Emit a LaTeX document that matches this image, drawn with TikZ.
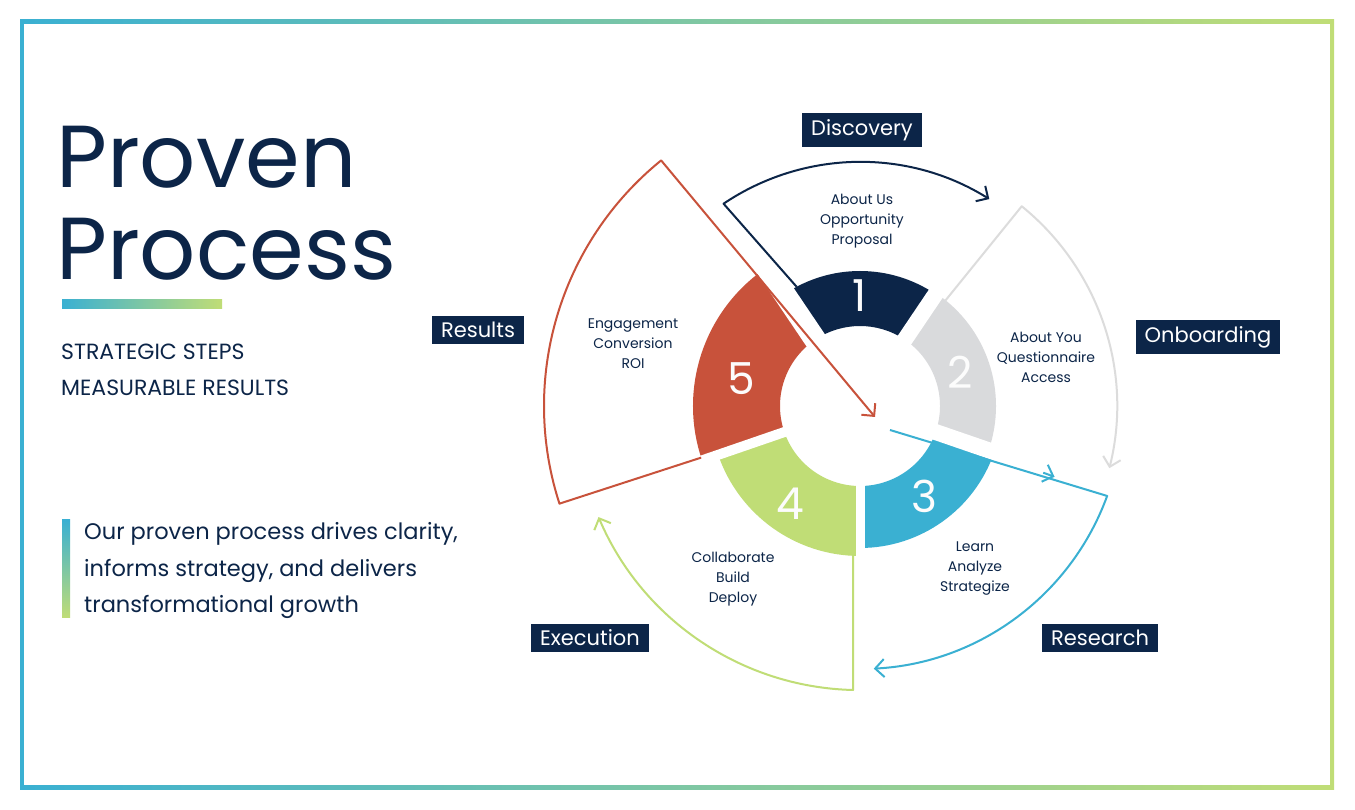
\documentclass[tikz,border=0pt]{standalone}
\usepackage{fontspec}
\setmainfont{Poppins}
\usetikzlibrary{arrows.meta}
\definecolor{navy}{HTML}{0C2548}
\definecolor{rust}{HTML}{C8523B}
\definecolor{fog}{HTML}{D9DADC}
\definecolor{sky}{HTML}{3AB0D2}
\definecolor{lime}{HTML}{C0DD76}
\definecolor{pale}{HTML}{DCDCDC}
\tikzset{
  tag/.style={fill=navy,text=white,font=\fontsize{21}{24}\selectfont,inner xsep=9pt,inner ysep=6pt},
  step text/.style={text=navy,align=center,font=\fontsize{14}{20}\selectfont},
  num/.style={text=white!92!fog,font=\fontsize{44}{44}\selectfont},
  barb/.style={-{Straight Barb[length=9pt,width=18pt]}},
}
\begin{document}
\begin{tikzpicture}[x=1pt,y=1pt,line join=round]
  \useasboundingbox (0,0) rectangle (1355,809);
  % frame
  \shade[left color=sky,right color=lime] (20,20) rectangle (1334,789);
  \fill[white] (24,24) rectangle (1330,785);
  % title block
  \node[anchor=base west,text=navy,inner sep=0,font=\fontsize{88}{92}\selectfont] (title1) at (56,621) {Proven};
  \node[anchor=base west,text=navy,inner sep=0,font=\fontsize{88}{92}\selectfont] (title2) at (56,529) {Process};
  \shade[left color=sky,right color=lime] (62,500) rectangle (222,509);
  \node[anchor=base west,text=navy,inner sep=0,font=\fontsize{22}{26}\selectfont] (sub1) at (61,449) {STRATEGIC STEPS};
  \node[anchor=base west,text=navy,inner sep=0,font=\fontsize{22}{26}\selectfont] (sub2) at (61,413) {MEASURABLE RESULTS};
  \shade[top color=sky,bottom color=lime] (62,191) rectangle (70,289);
  \node[anchor=base west,text=navy,inner sep=0,align=left,font=\fontsize{22.5}{37}\selectfont] (blurb) at (84,269)
    {Our proven process drives clarity,};
  \node[anchor=base west,text=navy,inner sep=0,font=\fontsize{22.5}{37}\selectfont] at (84,232) {informs strategy, and delivers};
  \node[anchor=base west,text=navy,inner sep=0,font=\fontsize{22.5}{37}\selectfont] at (84,196) {transformational growth};

  \begin{scope}[shift={(860,403)}]
    % ring
    \fill[navy] (56:80) arc[start angle=56,end angle=124,radius=80] -- (124:135) arc[start angle=124,end angle=56,radius=135] -- cycle;
    \fill[fog] (-19:80) arc[start angle=-19,end angle=56,radius=80] -- (56:136) arc[start angle=56,end angle=-19,radius=136] -- cycle;
    \fill[sky] (-90:80) arc[start angle=-90,end angle=-19,radius=80] -- (-19:142) arc[start angle=-19,end angle=-90,radius=142] -- cycle;
    \fill[lime] (-161:80) arc[start angle=-161,end angle=-90,radius=80] -- (-90:150) arc[start angle=-90,end angle=-161,radius=150] -- cycle;
    \fill[rust] (124:80) arc[start angle=124,end angle=199,radius=80] -- (199:167) arc[start angle=199,end angle=124,radius=167] -- cycle;
    \draw[white,line width=22] (0,0) -- (124:180);
    \draw[white,line width=16] (0,0) -- (56:180);
    \draw[white,line width=16] (0,0) -- (-19:180);
    \draw[white,line width=9] (0,0) -- (-90:180);
    \draw[white,line width=10] (0,0) -- (-161:180);
    % outer arrows
    \draw[navy,line width=2,barb] (118:135) -- (124:244) arc[start angle=124,end angle=58,radius=244];
    \draw[pale,line width=2,barb] (51:136) -- (51:257) arc[start angle=51,end angle=-14,radius=257];
    \draw[sky,line width=2,barb] (30,-24) -- (-20:263) arc[start angle=-20,end angle=-87,radius=263];
    \draw[sky,line width=2,barb] (-20:195) -- (-20:207);
    \draw[lime,line width=2,barb] (-7,-150) -- (-7,-284) arc[start angle=268.6,end angle=203,radius=284];
    \draw[rust,line width=2,barb] (198:167) -- (198:316) arc[start angle=198,end angle=129,radius=316] -- (15,-11);
    % numbers
    \node[num] (n1) at (0,110) {1};
    \node[num] (n2) at (100,34) {2};
    \node[num] (n3) at (64,-90) {3};
    \node[num] (n4) at (-70,-98) {4};
    \node[num] (n5) at (-119,27) {5};
  \end{scope}

  % step texts
  \node[step text] (s1) at (862,588) {About Us\\Opportunity\\Proposal};
  \node[step text] (s2) at (1046,452) {About You\\Questionnaire\\Access};
  \node[step text] (s3) at (975,240) {Learn\\Analyze\\Strategize};
  \node[step text] (s4) at (733,230) {Collaborate\\Build\\Deploy};
  \node[step text] (s5) at (633,465) {Engagement\\Conversion\\ROI};
  % tags
  \node[tag] (discovery) at (862,679) {Discovery};
  \node[tag] (onboarding) at (1208,472) {Onboarding};
  \node[tag] (research) at (1100,171) {Research};
  \node[tag] (execution) at (590,171) {Execution};
  \node[tag] (results) at (478,479) {Results};
\end{tikzpicture}
\end{document}
